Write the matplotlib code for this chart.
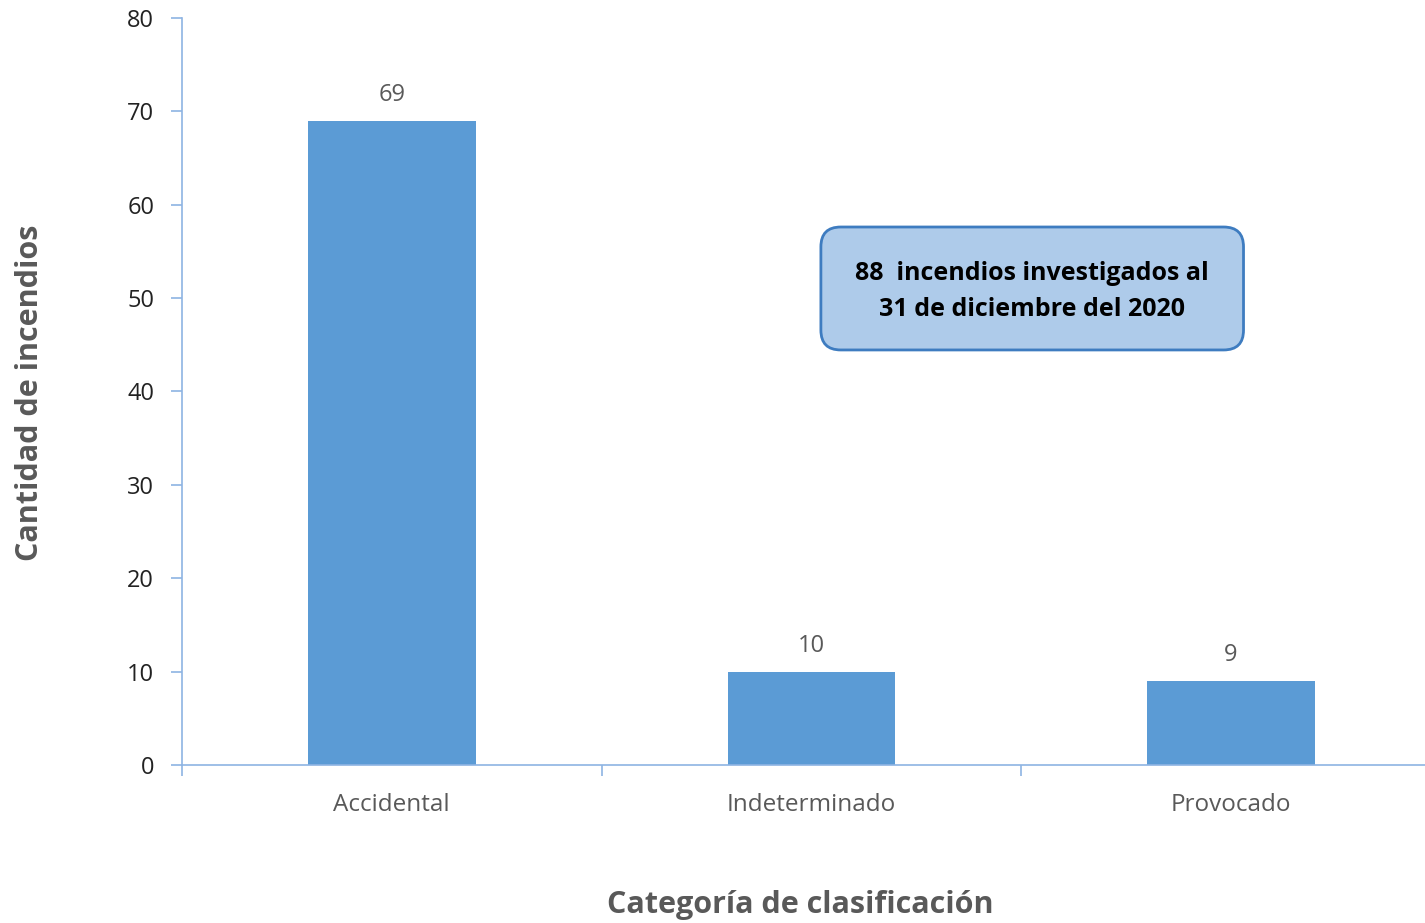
import matplotlib
matplotlib.use("Agg")
import matplotlib.pyplot as plt
from matplotlib.patches import FancyBboxPatch

categories = ["Accidental", "Indeterminado", "Provocado"]
counts = [69, 10, 9]
yticks = [0, 10, 20, 30, 40, 50, 60, 70, 80]
note = "88  incendios investigados al\n31 de diciembre del 2020"

BAR = "#5B9BD5"
AXIS = "#8EB4E3"
GREY = "#595959"

plt.rcParams["font.family"] = ["Open Sans", "DejaVu Sans"]

fig = plt.figure(figsize=(14.25, 9.23), dpi=100)
ax = fig.add_axes([0.1277, 0.1712, 0.8723, 0.8093])

x = list(range(len(categories)))
ax.bar(x, counts, width=0.40, color=BAR, zorder=2)
for xi, v in zip(x, counts):
    ax.annotate(str(v), (xi, v), xytext=(0, 10), textcoords="offset points",
                ha="center", va="bottom", fontsize=17, color=GREY)

ax.set_xlim(-0.5, 2.462)
ax.set_ylim(0, 80)
ax.set_yticks(yticks)
ax.set_yticklabels([str(t) for t in yticks], fontsize=17, color="#222222")

# category boundaries carry the ticks, labels sit in the middle
ax.set_xticks([-0.5, 0.5, 1.5])
ax.set_xticklabels([])
ax.set_xticks(x, minor=True)
ax.set_xticklabels(categories, minor=True, fontsize=17.5, color=GREY)
ax.tick_params(axis="x", which="major", length=8, color=AXIS, width=1.2)
ax.tick_params(axis="x", which="minor", length=0, pad=20)
ax.tick_params(axis="y", length=8, color=AXIS, width=1.2, pad=12)

for s in ("top", "right"):
    ax.spines[s].set_visible(False)
for s in ("left", "bottom"):
    ax.spines[s].set_color(AXIS)
    ax.spines[s].set_linewidth(1.2)

fig.text(30 / 1425, 1 - 393 / 923, "Cantidad de incendios", rotation=90,
         ha="center", va="center", fontsize=22, fontweight="bold", color=GREY)
fig.text(800 / 1425, 1 - 905 / 923, "Categoría de clasificación",
         ha="center", va="center", fontsize=22, fontweight="bold", color=GREY)

box = FancyBboxPatch((0.514, 0.5556), 0.340, 0.1646,
                     boxstyle="round,pad=0,rounding_size=0.016",
                     mutation_aspect=1.66, transform=ax.transAxes,
                     facecolor="#AECBEA", edgecolor="#3E7CC0", linewidth=2,
                     zorder=3, clip_on=False)
ax.add_patch(box)
ax.text(0.684, 0.634, note, transform=ax.transAxes, ha="center", va="center",
        fontsize=18, fontweight="bold", color="black", linespacing=1.6, zorder=4)

fig.savefig("out.png", dpi=100)
